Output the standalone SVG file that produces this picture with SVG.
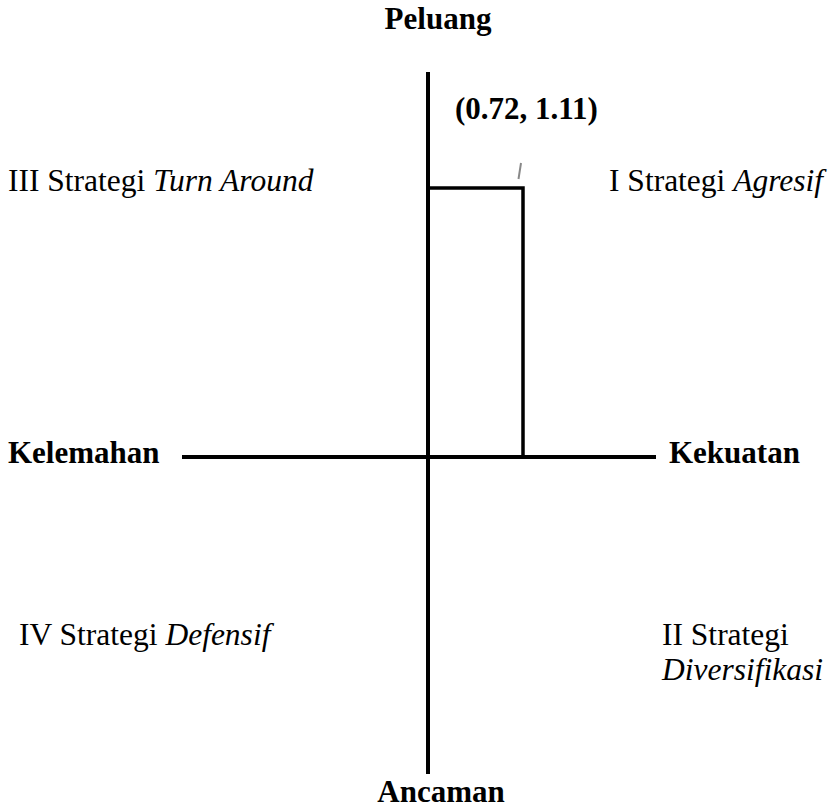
<svg xmlns="http://www.w3.org/2000/svg" width="840" height="810" viewBox="0 0 840 810">
  <style>
    text { font-family: 'Liberation Serif', 'DejaVu Serif', serif; font-size: 31.5px; fill: #000; }
    .b { font-weight: bold; font-size: 31px; }
    .i { font-style: italic; }
    .ax { stroke: #000; stroke-width: 4; fill: none; }
    .bx { stroke: #000; stroke-width: 3.5; fill: none; }
  </style>
  <rect width="840" height="810" fill="#fff"/>
  <g id="connectors">
    <line class="ax" x1="428" y1="72" x2="428" y2="774"/>
    <line class="ax" x1="182" y1="457" x2="656" y2="457"/>
    <polyline class="bx" points="428,188 523,188 523,457"/>
    <line x1="521" y1="163" x2="518.5" y2="179" stroke="#888" stroke-width="2"/>
  </g>
  <g id="peluang"><text class="b" x="438" y="29" text-anchor="middle">Peluang</text></g>
  <g id="ancaman"><text class="b" x="441" y="802" text-anchor="middle">Ancaman</text></g>
  <g id="kelemahan"><text class="b" x="8" y="463">Kelemahan</text></g>
  <g id="kekuatan"><text class="b" x="669" y="463">Kekuatan</text></g>
  <g id="point"><text class="b" x="455" y="119">(0.72, 1.11)</text></g>
  <g id="q3"><text x="8" y="191">III Strategi <tspan class="i">Turn Around</tspan></text></g>
  <g id="q1"><text x="609" y="191">I Strategi <tspan class="i">Agresif</tspan></text></g>
  <g id="q4"><text x="19" y="645">IV Strategi <tspan class="i">Defensif</tspan></text></g>
  <g id="q2"><text x="662" y="645">II Strategi</text><text class="i" x="662" y="680">Diversifikasi</text></g>
</svg>
